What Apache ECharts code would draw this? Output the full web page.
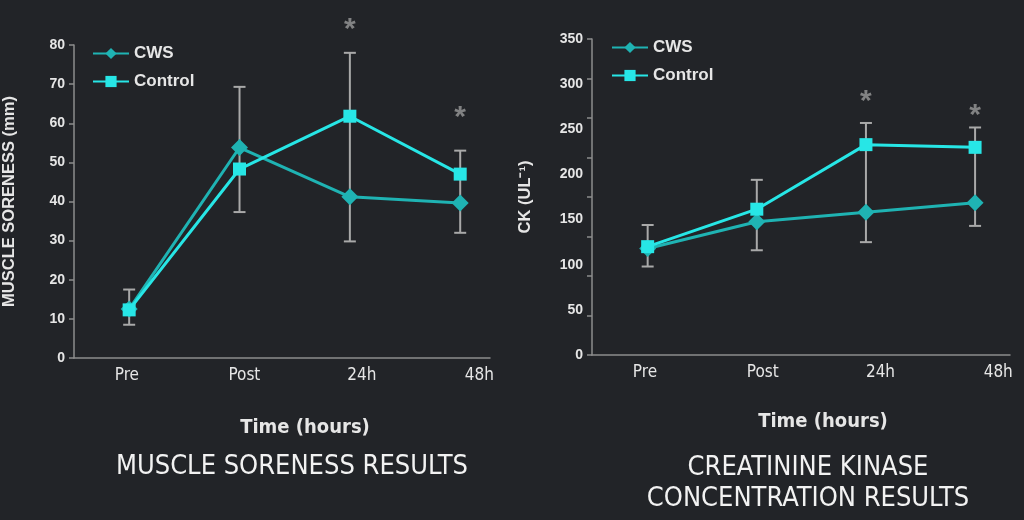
<!DOCTYPE html>
<html><head><meta charset="utf-8">
<script src="https://cdn.jsdelivr.net/npm/echarts@6/dist/echarts.min.js"></script>
<style>html,body{margin:0;padding:0;background:#222428;}#c{width:1024px;height:520px;}</style>
</head><body><div id="c"></div>
<script>
const categories = ['Pre', 'Post', '24h', '48h'];
const seriesNames = ['CWS', 'Control'];

// Muscle soreness (mm)
const sorenessCWS = [12.5, 53.8, 41.2, 39.6];
const sorenessControl = [12.3, 48.3, 61.8, 47];
const sorenessErrTop = [17.5, 69.3, 78, 53];
const sorenessErrBottom = [8.5, 37.3, 29.8, 32];
const sorenessSig = [null, null, 84, 61.5];
const sorenessTicks = [0, 80, 10];

// Creatine kinase (UL-1)
const ckCWS = [118, 147.5, 158, 168.5];
const ckControl = [120, 161.5, 233, 230];
const ckErrTop = [144, 194, 257, 252];
const ckErrBottom = [98, 116, 125, 143];
const ckSig = [null, null, 280.5, 265.5];
const ckTicks = [0, 350, 50];

const BG = '#222428', AX = '#8c8c8c', TXT = '#e6e6e6', ERR = '#a9a9a9';
const C_CWS = '#1fb3b3', C_CTRL = '#27e6e6';
const NARROW = "'Liberation Sans Narrow','DejaVu Sans Condensed',sans-serif";
const SANS = "'Liberation Sans',Arial,sans-serif";

const chart = echarts.init(document.getElementById('c'));

function errSeries(xi, yi, top, bottom) {
  return {
    type: 'custom', xAxisIndex: xi, yAxisIndex: yi, z: 1, silent: true,
    data: categories.map((c, i) => [i, top[i], bottom[i]]),
    renderItem: function (params, api) {
      const t = api.coord([api.value(0), api.value(1)]);
      const b = api.coord([api.value(0), api.value(2)]);
      const hw = 6;
      const st = { stroke: ERR, lineWidth: 2 };
      return { type: 'group', children: [
        { type: 'line', shape: { x1: t[0], y1: t[1], x2: b[0], y2: b[1] }, style: st },
        { type: 'line', shape: { x1: t[0] - hw, y1: t[1], x2: t[0] + hw, y2: t[1] }, style: st },
        { type: 'line', shape: { x1: b[0] - hw, y1: b[1], x2: b[0] + hw, y2: b[1] }, style: st }
      ]};
    }
  };
}
function lineSeries(name, xi, yi, data, color, symbol, size) {
  return {
    name: name, type: 'line', xAxisIndex: xi, yAxisIndex: yi, z: 3,
    data: data.map((v, i) => [i, v]), symbol: symbol, symbolSize: size,
    lineStyle: { color: color, width: 3 }, itemStyle: { color: color },
    clip: false
  };
}
function sigSeries(xi, yi, data) {
  return {
    type: 'scatter', xAxisIndex: xi, yAxisIndex: yi, symbolSize: 1, clip: false, silent: true,
    itemStyle: { color: 'rgba(0,0,0,0)' },
    data: data.map((v, i) => v == null ? null : [i, v]).filter(d => d),
    label: { show: true, position: 'inside', formatter: '*', color: '#9a9a9a', fontSize: 30, fontWeight: 'bold', fontFamily: SANS }
  };
}
function yAxisVal(gi, ticks, name, gap, showLabel, showTick, maxOverride) {
  return {
    type: 'value', gridIndex: gi, position: 'left', min: ticks[0], max: maxOverride || ticks[1], interval: ticks[2],
    name: name, nameLocation: 'middle', nameGap: gap,
    nameTextStyle: { color: TXT, fontSize: 16.5, fontWeight: 'bold', fontFamily: SANS },
    axisLine: { show: showTick, onZero: false, lineStyle: { color: AX, width: 1.5 } },
    axisTick: { show: showTick, length: 5, lineStyle: { color: AX, width: 1.5 } },
    axisLabel: { show: showLabel, color: TXT, fontSize: 14, fontWeight: 'bold', fontFamily: SANS, margin: 9 },
    splitLine: { show: false }
  };
}
function xAxisData(gi, min, max) {
  return {
    type: 'value', gridIndex: gi, min: min, max: max, position: 'bottom',
    axisLine: { show: true, onZero: false, lineStyle: { color: AX, width: 1.5 } },
    axisTick: { show: false }, axisLabel: { show: false }, splitLine: { show: false }
  };
}
function xAxisLabels(gi, min, max) {
  return {
    type: 'value', gridIndex: gi, min: min, max: max, position: 'bottom',
    axisLine: { show: false, onZero: false }, axisTick: { show: false }, splitLine: { show: false },
    axisLabel: { show: true, customValues: [0, 1, 2, 3], formatter: v => categories[Math.round(v)],
      color: TXT, fontSize: 17, fontFamily: NARROW, margin: 9 }
  };
}
function legendAt(left, top, gap) {
  return { data: seriesNames, orient: 'vertical', left: left, top: top, padding: 0,
    itemWidth: 36, itemHeight: 14, itemGap: gap,
    textStyle: { color: TXT, fontSize: 17, fontWeight: 'bold', fontFamily: SANS } };
}

chart.setOption({
  backgroundColor: BG,
  animation: false,
  grid: [
    { left: 73, right: 534, top: 45, bottom: 162 },
    { left: 592, right: 14, top: 39, bottom: 165 }
  ],
  xAxis: [
    xAxisData(0, -0.5, 3.27),
    xAxisLabels(0, -0.45, 3.09),
    xAxisData(1, -0.51, 3.32),
    xAxisLabels(1, -0.45, 3.10)
  ],
  yAxis: [
    yAxisVal(0, sorenessTicks, 'MUSCLE SORENESS (mm)', 56, true, true),
    yAxisVal(1, ckTicks, 'CK (UL⁻¹)', 58, true, false),
    yAxisVal(1, [0, 400, 50], '', 0, false, true)
  ],
  legend: [ legendAt(92, 45, 11), legendAt(611, 39, 11) ],
  title: [
    { text: 'Time (hours)', left: 305, top: 418, textAlign: 'center', padding: 0,
      textStyle: { color: TXT, fontSize: 20, fontWeight: 'bold', fontFamily: NARROW } },
    { text: 'Time (hours)', left: 823, top: 412, textAlign: 'center', padding: 0,
      textStyle: { color: TXT, fontSize: 20, fontWeight: 'bold', fontFamily: NARROW } },
    { text: 'MUSCLE SORENESS RESULTS', left: 292, top: 453, textAlign: 'center', padding: 0,
      textStyle: { color: '#f2f2f2', fontSize: 27, fontWeight: 'normal', fontFamily: NARROW } },
    { text: 'CREATININE KINASE\nCONCENTRATION RESULTS', left: 808, top: 452, textAlign: 'center', padding: 0,
      textStyle: { color: '#f2f2f2', fontSize: 27, fontWeight: 'normal', fontFamily: NARROW, lineHeight: 31 } }
  ],
  series: [
    errSeries(0, 0, sorenessErrTop, sorenessErrBottom),
    lineSeries('CWS', 0, 0, sorenessCWS, C_CWS, 'diamond', 17),
    lineSeries('Control', 0, 0, sorenessControl, C_CTRL, 'rect', 13),
    sigSeries(0, 0, sorenessSig),
    errSeries(2, 1, ckErrTop, ckErrBottom),
    lineSeries('CWS', 2, 1, ckCWS, C_CWS, 'diamond', 17),
    lineSeries('Control', 2, 1, ckControl, C_CTRL, 'rect', 13),
    sigSeries(2, 1, ckSig)
  ]
});
</script></body></html>
